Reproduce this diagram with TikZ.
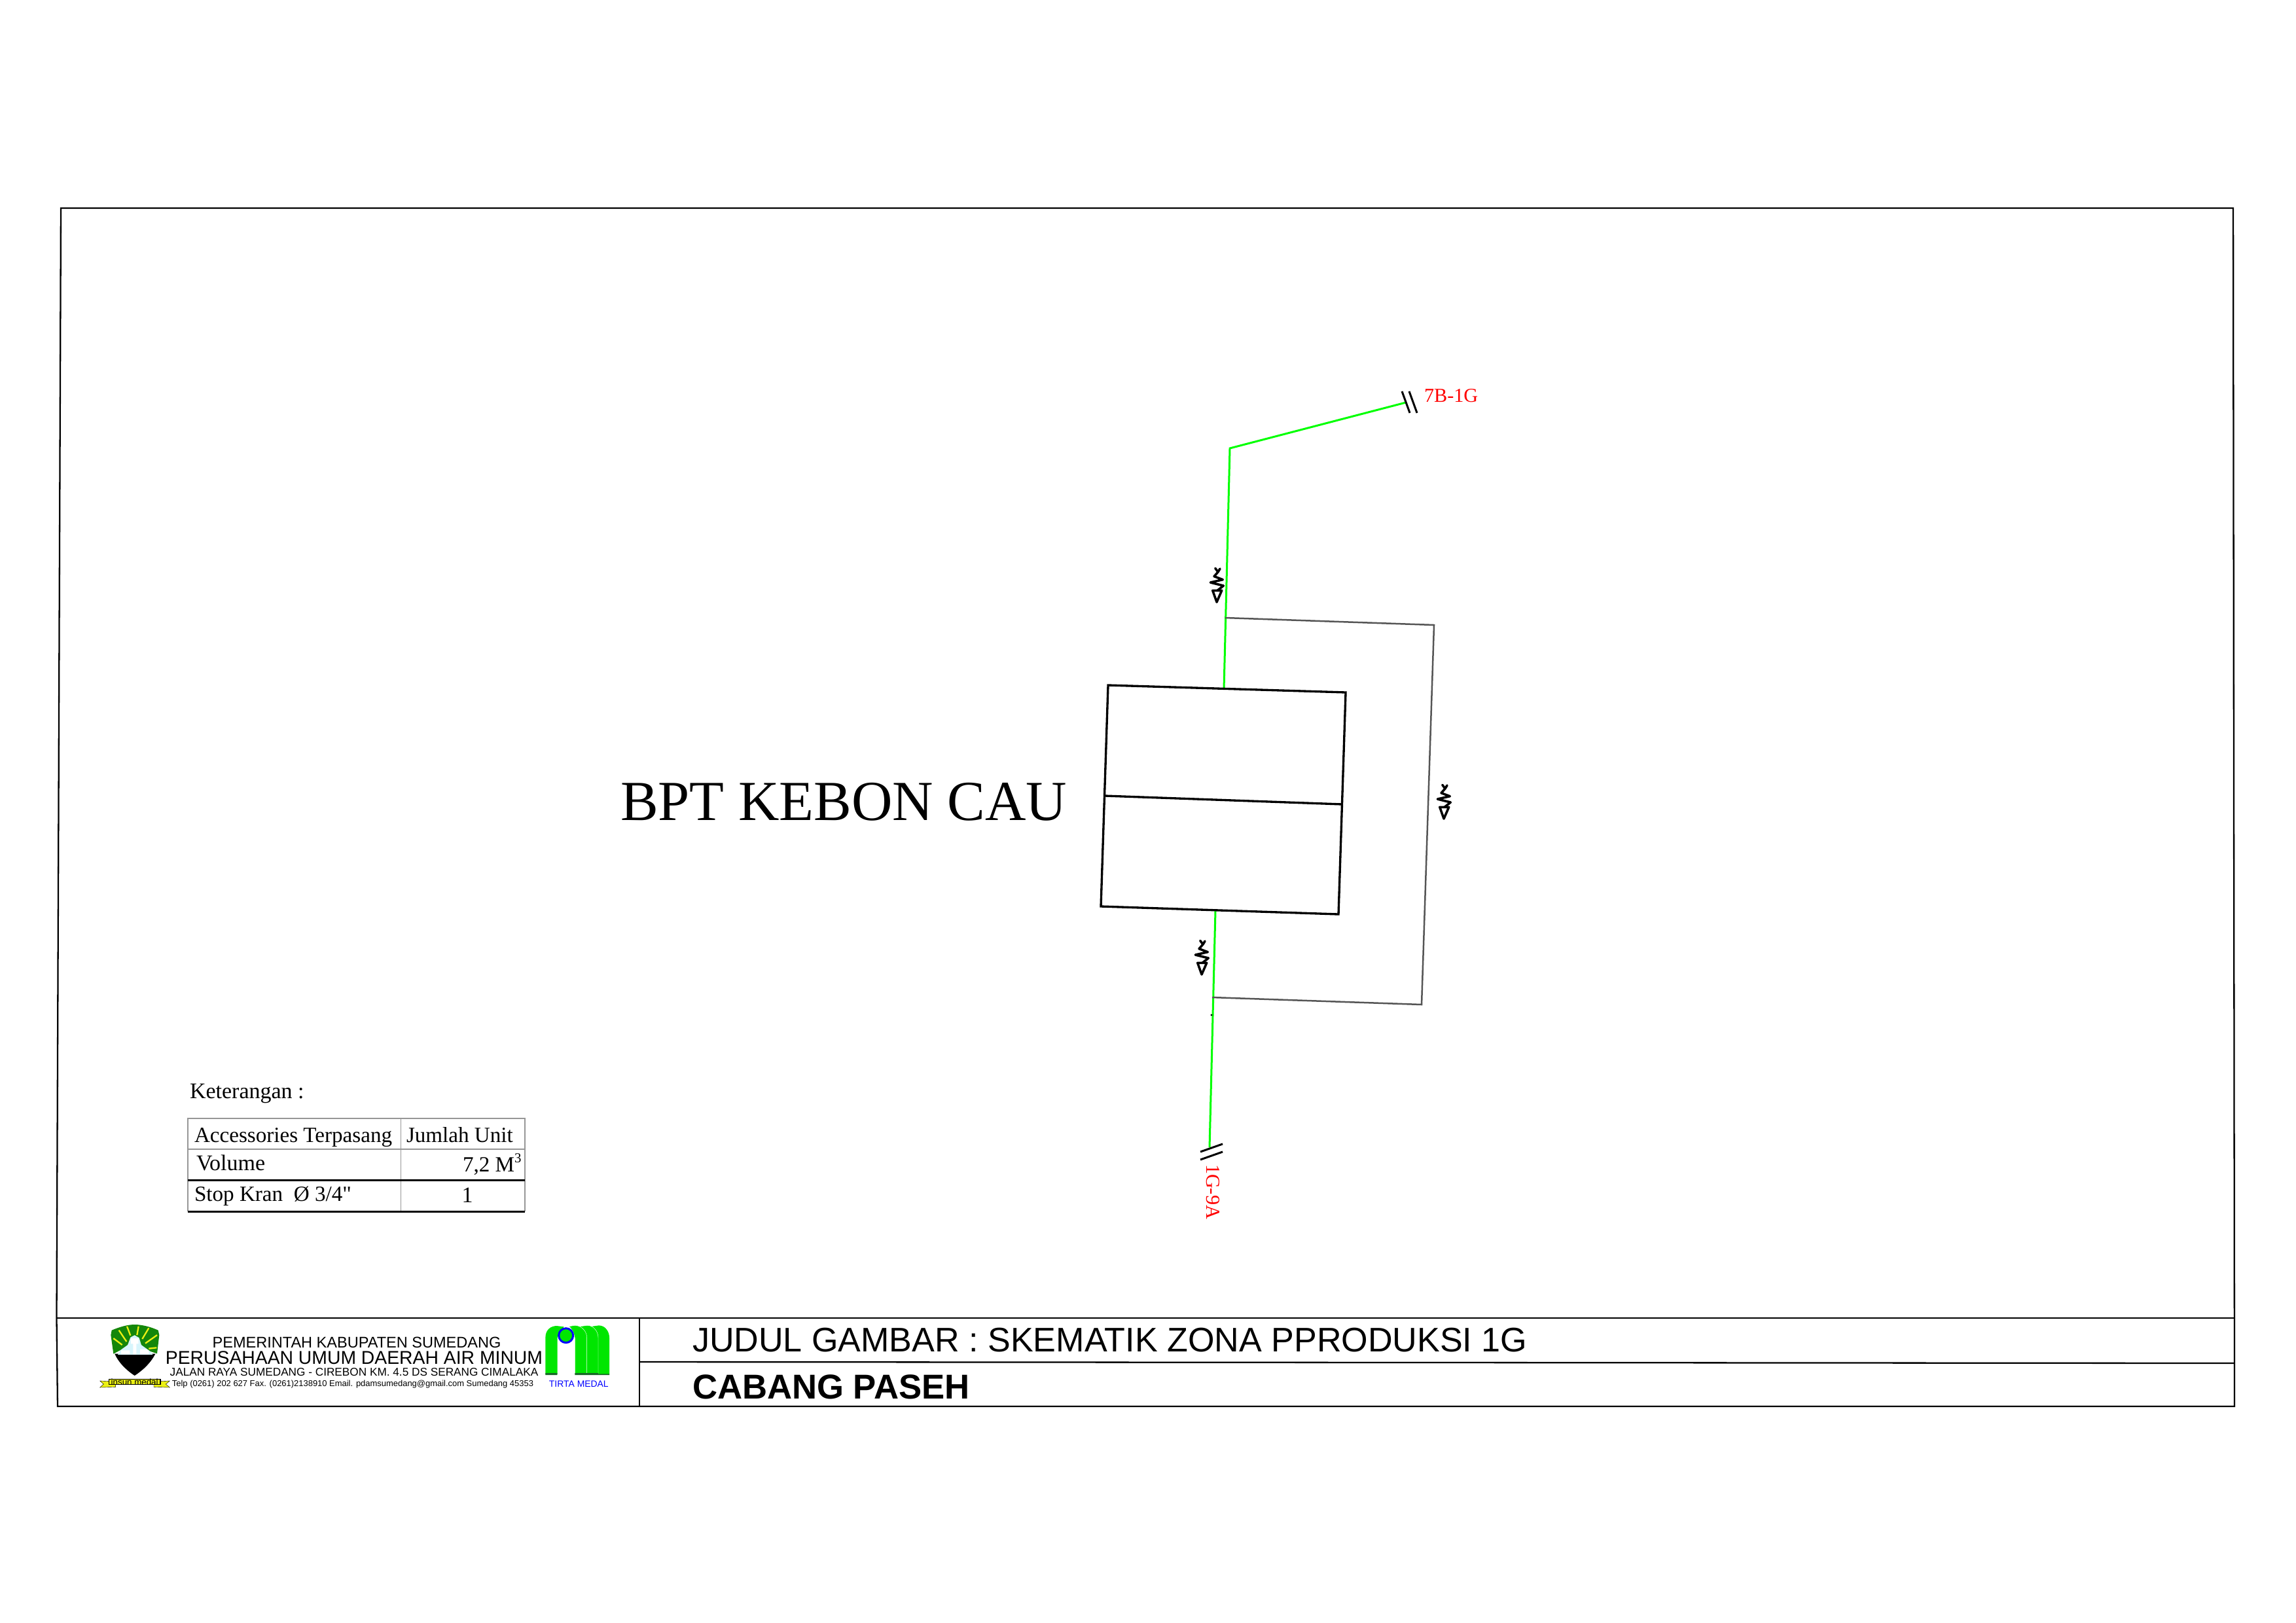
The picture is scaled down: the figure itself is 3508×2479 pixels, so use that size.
\documentclass[tikz,border=0pt]{standalone}
\usepackage{fontspec}
\setmainfont{Liberation Serif}
\newfontfamily\plainserif{Liberation Serif}
\newfontfamily\arialf{Liberation Sans}
\definecolor{pipegreen}{RGB}{0,255,0}
\definecolor{bypass}{RGB}{85,85,85}
\definecolor{thingrey}{RGB}{150,150,150}
\definecolor{logogreen}{RGB}{0,230,0}
\definecolor{shieldgreen}{RGB}{20,135,10}
\definecolor{darkband}{RGB}{25,105,40}
\definecolor{skyb}{RGB}{215,245,252}
\definecolor{ribbon}{RGB}{235,240,20}
\tikzset{
  frameline/.style={draw=black,line width=0.55pt},
  tankline/.style={draw=black,line width=0.8pt,line join=miter},
  pipe/.style={draw=pipegreen,line width=0.72pt,line join=miter},
  bypassline/.style={draw=bypass,line width=0.6pt,line join=miter},
  breakline/.style={draw=black,line width=0.72pt},
  gridthin/.style={draw=thingrey,line width=0.3pt},
  gridthick/.style={draw=black,line width=0.72pt},
  lab/.style={inner sep=0pt,outer sep=0pt,anchor=base west},
  labc/.style={inner sep=0pt,outer sep=0pt,anchor=base},
  tabtext/.style={lab,font=\fontsize{8.16}{10}\selectfont},
  tabtight/.style={lab,font=\fontsize{7.95}{10}\selectfont},
  redtag/.style={inner sep=0pt,outer sep=0pt,text=red,font=\fontsize{7.25}{9}\selectfont},
  valvepic/.pic={
    \draw[line width=0.85pt,line join=round,line cap=round]
      (-3.3,-25.7) -- (1,-20) -- (4,-25) (1,-20) -- (-5,-13.3) -- (8.3,-8.3) -- (-10.7,-4) -- (9.3,1) -- (0,8.3);
    \draw[line width=0.85pt,line join=round] (-7.3,8.3) -- (6.7,8.3) -- (-1,26) -- cycle;
  }
}
\begin{document}
\begin{tikzpicture}[x=0.24pt,y=-0.24pt]
\useasboundingbox (0,0) rectangle (3508,2479);
\fill[white] (0,0) rectangle (3508,2479);
% sheet frame
\coordinate (fTL) at (93,318);
\coordinate (fTR) at (3412,318);
\coordinate (fBR) at (3414,2149);
\coordinate (fBL) at (88,2149);
\coordinate (tL) at (86.5,2014);
\coordinate (tR) at (3413,2014);
\coordinate (mL) at (977,2081);
\coordinate (mR) at (3413,2083);
\coordinate (vT) at (977,2014);
\coordinate (vB) at (977,2149);
\draw[frameline] (fTL) -- (fTR) -- (fBR) -- (fBL) -- (tL) -- cycle;
\draw[frameline] (tL) -- (tR);
\draw[frameline] (mL) -- (mR);
\draw[frameline] (vT) -- (vB);
% tank
\coordinate (bTL) at (1693,1047);
\coordinate (bTR) at (2056,1058);
\coordinate (bBR) at (2045,1397);
\coordinate (bBL) at (1682,1385);
\coordinate (bML) at (1688,1216);
\coordinate (bMR) at (2051,1229);
\coordinate (pTop) at (1870,1052);
\coordinate (pBot) at (1857,1391);
\coordinate (j1) at (1872,944);
\coordinate (j2) at (1852,1524);
\coordinate (k1) at (1879,685);
\coordinate (e1) at (2148,615);
\coordinate (e2) at (1848,1753);
\coordinate (c1) at (2191,955);
\coordinate (c2) at (2172,1535);
% pipes
\draw[pipe] (e1) -- (k1) -- (pTop);
\draw[pipe] (pBot) -- (e2);
\draw[bypassline] (j1) -- (c1) -- (c2) -- (j2);
\draw[tankline] (bTL) -- (bTR) -- (bBR) -- (bBL) -- cycle;
\draw[tankline] (bML) -- (bMR);
% pipe breaks
\draw[breakline] (2142,598) -- (2154,631) (2153,598) -- (2165,631);
\draw[breakline] (1834,1760) -- (1868,1748) (1834,1772) -- (1868,1760);
\fill[black] (1851,1551) circle (1.6);
% valves
\pic at (1860,894) {valvepic};
\pic at (2207,1225) {valvepic};
\pic at (1837,1463) {valvepic};
% labels
\node[redtag,anchor=base west] (tag1) at (2176,614) {7B-1G};
\node[redtag,rotate=-90] (tag2) at (1853,1821) {1G-9A};
\node[lab,font=\fontsize{20.75}{25}\selectfont] (bpt) at (948,1253) {BPT KEBON CAU};
% legend
\node[tabtext] (ket) at (290,1678) {Keterangan :};
\coordinate (gTL) at (287,1709);
\coordinate (gTM) at (612.5,1709);
\coordinate (gTR) at (802,1709);
\coordinate (g1L) at (287,1756);
\coordinate (g1R) at (802,1756);
\coordinate (g2L) at (287,1803);
\coordinate (g2R) at (802,1803);
\coordinate (g3L) at (287,1851);
\coordinate (g3M) at (612.5,1851);
\coordinate (g3R) at (802,1851);
\draw[gridthin] (g3L) -- (gTL) -- (gTR) -- (g3R);
\draw[gridthin] (g1L) -- (g1R);
\draw[gridthin] (gTM) -- (g3M);
\draw[gridthick] (g2L) -- (g2R);
\draw[gridthick] (g3L) -- (g3R);
\node[tabtight] (t1) at (297,1745) {Accessories Terpasang};
\node[tabtight] (t2) at (621,1745) {Jumlah Unit};
\node[tabtext] (t3) at (300,1788) {Volume};
\node[tabtight] (t4) at (707,1790) {7,2 M\raisebox{0.42em}{\fontsize{5}{6}\selectfont 3}};
\node[tabtight] (t5) at (297,1835) {Stop Kran\ \ Ø 3/4{\plainserif"}};
\node[tabtext,anchor=base] (t6) at (714,1837) {1};
% title block
\node[lab,font=\arialf\fontsize{12.5}{14}\selectfont] (judul) at (1058,2065) {JUDUL GAMBAR : SKEMATIK ZONA PPRODUKSI 1G};
\node[lab,font=\arialf\bfseries\fontsize{12.65}{14}\selectfont] (cabang) at (1058,2137) {CABANG PASEH};
\node[labc,font=\arialf\fontsize{5.65}{7}\selectfont] (o1) at (545,2059) {PEMERINTAH KABUPATEN SUMEDANG};
\node[labc,font=\arialf\fontsize{6.8}{8}\selectfont] (o2) at (541,2084) {PERUSAHAAN UMUM DAERAH AIR MINUM};
\node[labc,font=\arialf\fontsize{4.13}{5}\selectfont] (o3) at (541,2102.7) {JALAN RAYA SUMEDANG - CIREBON KM. 4.5 DS SERANG CIMALAKA};
\node[labc,font=\arialf\fontsize{3.11}{4}\selectfont] (o4) at (539,2118) {Telp (0261) 202 627 Fax. (0261)2138910 Email. pdamsumedang@gmail.com Sumedang 45353};
% shield logo
\begin{scope}[shift={(140,2020)},x=0.08pt,y=-0.08pt]
  \fill[black] (106,146) .. controls (125,190) and (165,225) .. (197,246) .. controls (230,225) and (270,190) .. (292,146) -- cycle;
  \fill[skyb] (120,150) -- (135,125) -- (165,105) -- (178,70) -- (197,60) -- (218,70) -- (228,105) -- (265,128) -- (280,150) -- cycle;
  \fill[white] (180,75) rectangle (215,100) (190,100) rectangle (205,148) (135,130) rectangle (175,148) (222,125) rectangle (262,148);
  \fill[shieldgreen] (88,60) -- (92,38) .. controls (130,22) and (165,12) .. (197,12) .. controls (230,12) and (270,22) .. (305,38) -- (310,60) -- (300,145) -- (270,135) -- (228,105) -- (218,72) -- (197,60) -- (178,70) -- (165,105) -- (130,130) -- (100,146) -- (95,110) -- cycle;
  \foreach \ax/\ay/\bx/\by in {100/75/140/105, 125/38/160/90, 162/20/178/62, 215/20/208/60, 262/28/232/78, 300/60/246/98, 298/118/262/122}
    \draw[ribbon,line width=0.55pt] (\ax,\ay) -- (\bx,\by);
  \fill[ribbon,draw=black,line width=0.1pt] (80,272) -- (38,270) -- (55,285) -- (38,300) -- (110,298) -- (110,285) -- cycle;
  \fill[ribbon,draw=black,line width=0.1pt] (315,272) -- (358,270) -- (340,285) -- (358,300) -- (285,298) -- (285,285) -- cycle;
  \fill[ribbon,draw=black,line width=0.25pt] (80,262) rectangle (315,287);
  \node[inner sep=0pt,font=\arialf\fontsize{3.2}{4}\selectfont] (insun) at (197,274) {insun medal};
\end{scope}
% tirta medal logo
\begin{scope}[shift={(820,2020)},x=0.08pt,y=-0.08pt]
  \fill[logogreen] (255,240) -- (255,20) -- (285,16) .. controls (315,16) and (333,45) .. (333,72) -- (333,240) -- cycle;
  \fill[logogreen,draw=white,line width=0.1pt] (200,240) -- (200,20) -- (232,16) .. controls (262,16) and (282,45) .. (282,72) -- (282,240) -- cycle;
  \fill[logogreen,draw=white,line width=0.1pt] (175,240) -- (175,75) .. controls (172,50) and (160,30) .. (148,20) -- (175,16) .. controls (205,16) and (230,42) .. (230,72) -- (230,240) -- cycle;
  \fill[logogreen] (40,240) -- (40,72) .. controls (40,35) and (65,18) .. (92,18) -- (125,22) -- (105,50) -- (95,72) -- (95,240) -- cycle;
  \fill[darkband] (40,234) rectangle (94,243) (175,234) rectangle (282,243) (282,238) rectangle (333,243);
  \draw[draw=blue,fill=logogreen,line width=0.72pt] (134,62) circle (33);
  \node[labc,text=blue,font=\arialf\fontsize{3.34}{5}\selectfont] (tirta) at (193,297) {TIRTA MEDAL};
\end{scope}
\end{tikzpicture}
\end{document}
